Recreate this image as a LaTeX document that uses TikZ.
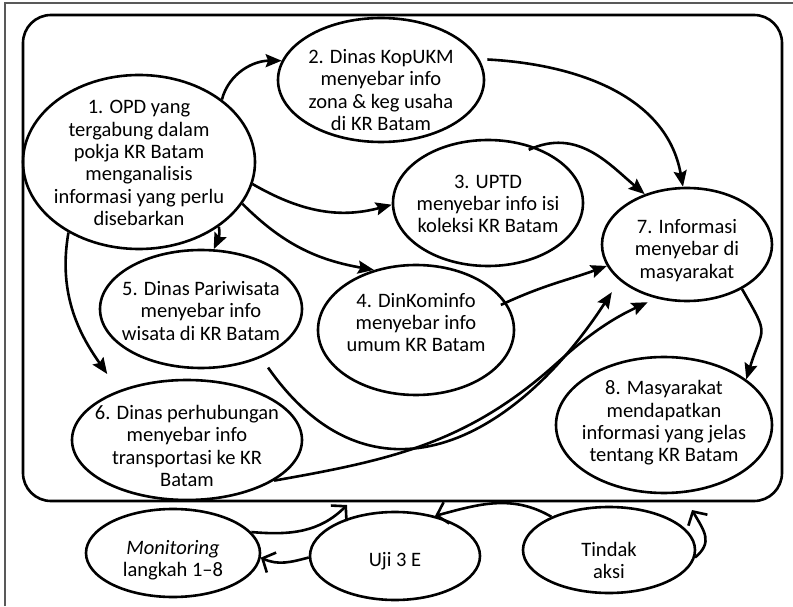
\documentclass[tikz,border=0pt]{standalone}
\usepackage{fontspec}
\setmainfont{Carlito}
\usetikzlibrary{arrows.meta,shapes.geometric}
\begin{document}
\begin{tikzpicture}[x=1pt,y=1pt,
  ell/.style={draw, ellipse, line width=2.6pt, inner sep=0pt},
  txt/.style={font=\fontsize{20.5}{22.3}\selectfont, align=center, inner sep=0pt},
  flow/.style={line width=2.6pt, -{Stealth[length=16pt,width=13pt,inset=2.5pt]}},
  loopflow/.style={line width=2.6pt, -{Straight Barb[length=10pt,width=22pt]}},
]
\useasboundingbox (0,0) rectangle (793,606);
\draw[black!65, line width=1.4pt] (5,0) -- (5,603) -- (793,603);

% container of steps 1-8
\node[draw, rounded corners=28pt, line width=2.6pt, minimum width=759pt,
      minimum height=486pt, inner sep=0pt] (frame) at (402.5,348) {};

% step ellipses
\node[ell, minimum width=232pt, minimum height=174pt] (n1) at (139,444) {};
\node[ell, minimum width=206pt, minimum height=124pt] (n2) at (381,526) {};
\node[ell, minimum width=190pt, minimum height=126pt] (n3) at (488,403) {};
\node[ell, minimum width=196pt, minimum height=130pt] (n4) at (416,276) {};
\node[ell, minimum width=202pt, minimum height=118pt] (n5) at (201,297) {};
\node[ell, minimum width=230pt, minimum height=120pt] (n6) at (187,166) {};
\node[ell, minimum width=170pt, minimum height=113pt] (n7) at (687,361.5) {};
\node[ell, minimum width=216pt, minimum height=136pt] (n8) at (664,181) {};
\node[ell, minimum width=174pt, minimum height=88pt] (nm) at (173,53) {};
\node[ell, minimum width=170pt, minimum height=88pt] (nu) at (395,50) {};
\node[ell, minimum width=172pt, minimum height=86pt] (nt) at (609,56) {};

% texts
\node[txt] (t1) at (139,443) {1. OPD yang\\tergabung dalam\\pokja KR Batam\\menganalisis\\informasi yang perlu\\disebarkan};
\node[txt] (t2) at (381,516) {2. Dinas KopUKM\\menyebar info\\zona \& keg usaha\\di KR Batam};
\node[txt] (t3) at (488,402) {3. UPTD\\menyebar info isi\\koleksi KR Batam};
\node[txt] (t4) at (416,283.5) {4. DinKominfo\\menyebar info\\umum KR Batam};
\node[txt] (t5) at (201,295) {5. Dinas Pariwisata\\menyebar info\\wisata di KR Batam};
\node[txt] (t6) at (187,160) {6. Dinas perhubungan\\menyebar info\\transportasi ke KR\\Batam};
\node[txt] (t7) at (687,355.5) {7. Informasi\\menyebar di\\masyarakat};
\node[txt] (t8) at (664,183) {8. Masyarakat\\mendapatkan\\informasi yang jelas\\tentang KR Batam};
\node[txt] (tm) at (173,45.5) {\textit{Monitoring}\\langkah 1–8};
\node[txt] (tu) at (395,44.5) {Uji 3 E};
\node[txt] (tt) at (609,45.5) {Tindak\\aksi};

% flows between the steps
\draw[flow] (n1.37) to[out=75,in=180] (n2.169);
\draw[flow] (n1.-11) to[out=-30,in=195] (n3.181);
\draw[flow] (n1.-22) to[out=-45,in=170] (n4.125);
\draw[flow] (n1.-39) to[out=-80,in=65] (n5.78);
\draw[flow, shorten >=20pt] (n1.-135) to[out=-100,in=125] (n6.144);
\draw[flow, shorten <=8pt] (n2.12) to[out=-3,in=100] (n7.94);
\draw[flow, shorten <=-7pt] (n3.50) to[out=25,in=140] (n7.130);
\draw[flow, shorten <=-6pt] (n4.17) to[out=25,in=200] (n7.195);
\draw[flow, shorten <=12pt, shorten >=14pt] (n5.-39) to[out=-55,in=237,looseness=1.35] (n7.208);
\coordinate (bend6) at (557,243);
\draw[flow, shorten >=9pt] (n6.-25) to[out=10,in=222] (bend6) to[out=42,in=205] (n7.240);
\draw[flow] (n7.-39) to[out=-60,in=73,looseness=1.6] (n8.29);

% monitoring cycle
\coordinate (fa) at (347,101);
\coordinate (fb) at (692,96);
\draw[loopflow] (nm.15) to[out=-5,in=225] (fa);
\draw[loopflow] (nu.181) to[out=195,in=-25] (nm.-3);
\draw[loopflow] (nt.150) to[out=150,in=15] (nu.45);
\draw[loopflow] (nt.-5) to[out=40,in=-60,looseness=1.3] (fb);
\end{tikzpicture}
\end{document}
